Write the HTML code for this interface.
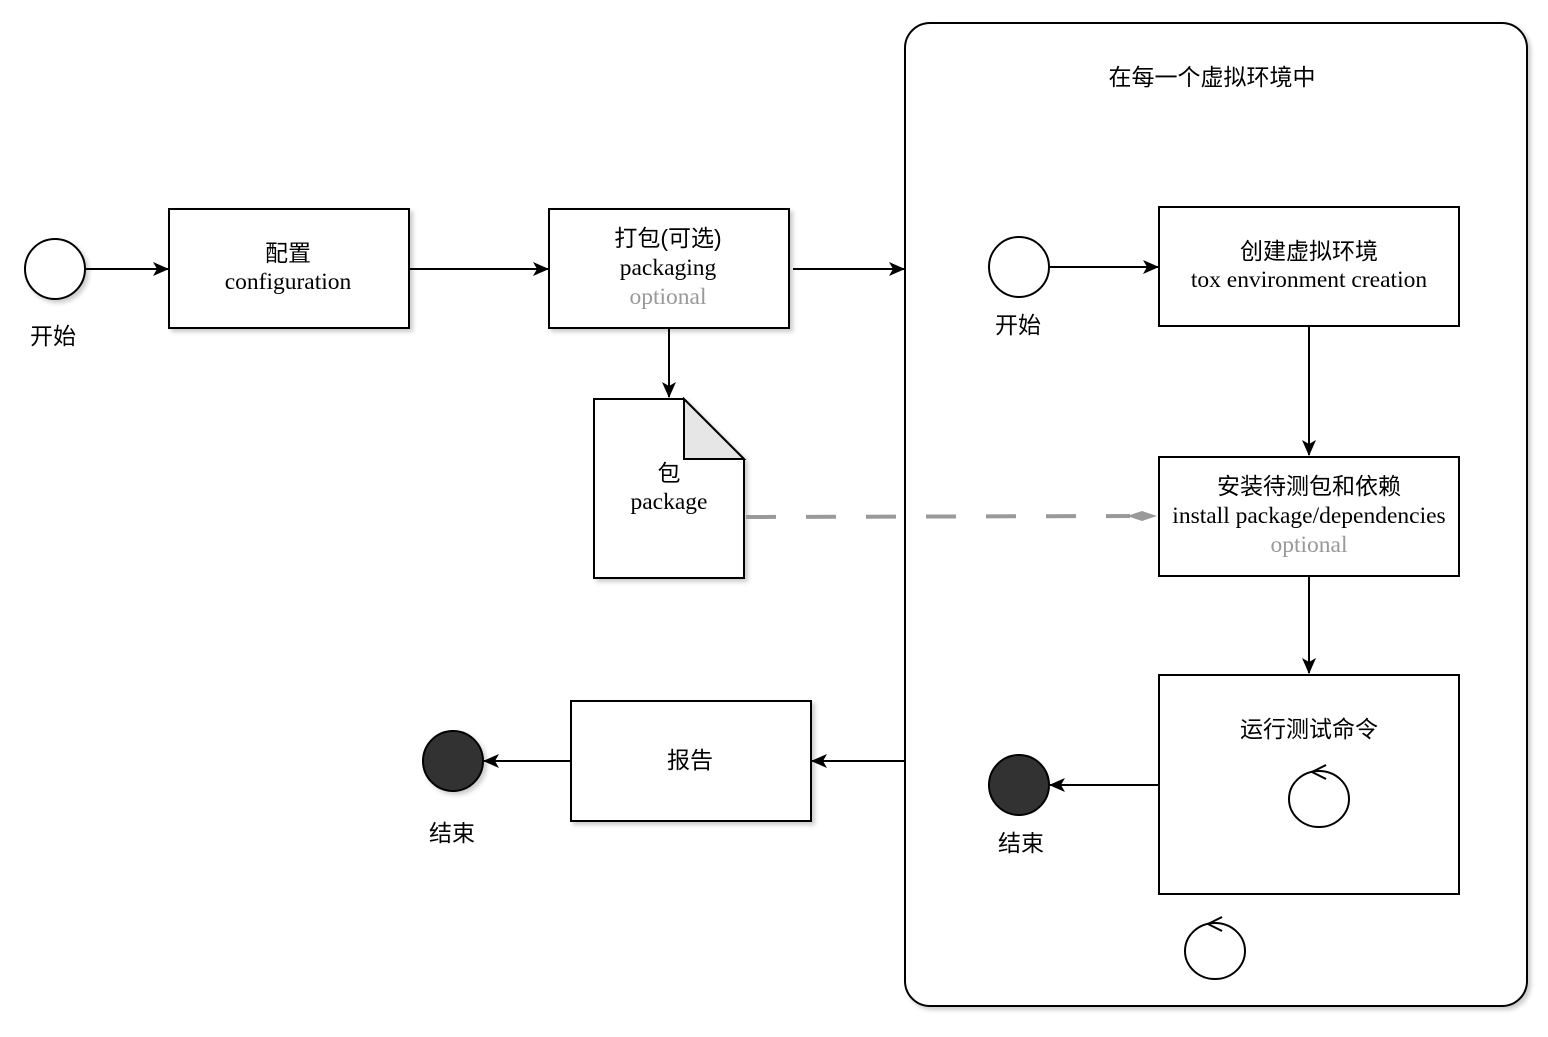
<!DOCTYPE html>
<html><head><meta charset="utf-8"><style>
html,body{margin:0;padding:0;background:#fff;}
svg text{font-family:"Liberation Serif","Noto Sans CJK SC",serif;font-size:23.5px;text-anchor:middle;fill:#000;}
svg text.c{font-family:"Liberation Sans","Noto Sans CJK SC",sans-serif;font-size:23px;}
svg text.g{fill:#999;}
</style></head><body>
<svg width="1548" height="1032" viewBox="0 0 1548 1032" xmlns="http://www.w3.org/2000/svg">
<defs>
<marker id="a" markerWidth="16" markerHeight="16" refX="15" refY="7" orient="auto" markerUnits="userSpaceOnUse" viewBox="0 0 16 14">
<path d="M0,0 L16,7 L0,14 L4,7 Z" fill="#000"/></marker>
<filter id="s" x="-10%" y="-10%" width="130%" height="130%"><feDropShadow dx="3" dy="3" stdDeviation="2" flood-color="#000" flood-opacity="0.2"/></filter>
</defs>
<g fill="#fff" stroke="#000" stroke-width="2" filter="url(#s)">
<rect x="905" y="23" width="622" height="983" rx="25"/>
<circle cx="55" cy="269" r="30"/>
<rect x="169" y="209" width="240" height="119"/>
<rect x="549" y="209" width="240" height="119"/>
<path d="M594,399 L684,399 L744,459 L744,578 L594,578 Z"/>
<rect x="571" y="701" width="240" height="120"/>
<circle cx="453" cy="761" r="30" fill="#333"/>
<circle cx="1019" cy="267" r="30"/>
<rect x="1159" y="207" width="300" height="119"/>
<rect x="1159" y="457" width="300" height="119"/>
<rect x="1159" y="675" width="300" height="219"/>
<circle cx="1019" cy="785" r="30" fill="#333"/>
</g>
<path d="M684,399 L684,459 L744,459 Z" fill="#e6e6e6" stroke="#000" stroke-width="2"/>
<g stroke="#000" stroke-width="2" fill="none" marker-end="url(#a)">
<line x1="85" y1="269" x2="168" y2="269"/>
<line x1="409" y1="269" x2="548" y2="269"/>
<line x1="793" y1="269" x2="904" y2="269"/>
<line x1="669" y1="328" x2="669" y2="397"/>
<line x1="1049" y1="267" x2="1158" y2="267"/>
<line x1="1309" y1="326" x2="1309" y2="455"/>
<line x1="1309" y1="576" x2="1309" y2="673"/>
<line x1="1159" y1="785" x2="1050" y2="785"/>
<line x1="905" y1="761" x2="812" y2="761"/>
<line x1="571" y1="761" x2="484" y2="761"/>
</g>
<line x1="746" y1="517" x2="1130" y2="516" stroke="#999" stroke-width="4" stroke-dasharray="30,30"/>
<path d="M1127,516 L1142,511 L1157,516 L1142,521 Z" fill="#999"/>
<g fill="none" stroke="#000" stroke-width="2">
<ellipse cx="1319" cy="799" rx="30" ry="28"/>
<path d="M1326,765 L1312,772 L1326,779"/>
<ellipse cx="1215" cy="951" rx="30" ry="28"/>
<path d="M1222,917 L1208,924 L1222,931"/>
</g>
<text class="c" x="53" y="344">开始</text>
<text class="c" x="288" y="261">配置</text>
<text x="288" y="289">configuration</text>
<text class="c" x="668" y="246">打包(可选)</text>
<text x="668" y="275">packaging</text>
<text class="g" x="668" y="304">optional</text>
<text class="c" x="669" y="481">包</text>
<text x="669" y="509">package</text>
<text class="c" x="1212" y="85">在每一个虚拟环境中</text>
<text class="c" x="1018" y="333">开始</text>
<text class="c" x="1309" y="259">创建虚拟环境</text>
<text x="1309" y="287">tox environment creation</text>
<text class="c" x="1309" y="494">安装待测包和依赖</text>
<text x="1309" y="523">install package/dependencies</text>
<text class="g" x="1309" y="552">optional</text>
<text class="c" x="1309" y="737">运行测试命令</text>
<text class="c" x="1021" y="851">结束</text>
<text class="c" x="690" y="768">报告</text>
<text class="c" x="452" y="841">结束</text>
</svg>
</body></html>
